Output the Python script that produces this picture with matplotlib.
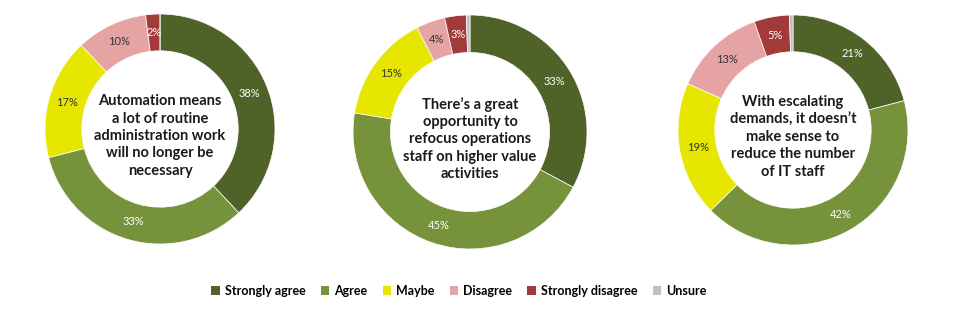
import matplotlib
matplotlib.use("Agg")
import matplotlib.pyplot as plt
from matplotlib.patches import Patch
import numpy as np

plt.rcParams['font.family'] = ['Lato', 'DejaVu Sans']

categories = ["Strongly agree", "Agree", "Maybe", "Disagree", "Strongly disagree", "Unsure"]
colors = ["#4f6228", "#76933c", "#e6e600", "#e6a3a3", "#a33a3a", "#c0c0c0"]
label_colors = ["white", "white", "#333333", "#333333", "white", "white"]

titles = [
    "Automation means\na lot of routine\nadministration work\nwill no longer be\nnecessary",
    "There\u2019s a great\nopportunity to\nrefocus operations\nstaff on higher value\nactivities",
    "With escalating\ndemands, it doesn\u2019t\nmake sense to\nreduce the number\nof IT staff",
]
values_1 = [38, 33, 17, 10, 2, 0]
values_2 = [33, 45, 15, 4, 3, 0.5]
values_3 = [21, 42, 19, 13, 5, 0.5]
all_values = [values_1, values_2, values_3]

W, H = 960, 326
fig = plt.figure(figsize=(W / 100, H / 100), dpi=100)

centers = [(160, 129, 115), (470, 132, 117), (793, 130, 115)]

for vals, title, (cx, cy, r) in zip(all_values, titles, centers):
    ax = fig.add_axes([(cx - r) / W, (H - cy - r) / H, 2 * r / W, 2 * r / H])
    ax.pie(vals, colors=colors, startangle=90, counterclock=False,
           radius=1.0, wedgeprops=dict(width=0.32, edgecolor='white', linewidth=0.5))
    total = sum(vals)
    cum = 0
    for v, lc in zip(vals, label_colors):
        if v >= 1:
            mid = 90 - (cum + v / 2) / total * 360
            rr = 0.84
            ax.text(rr * np.cos(np.radians(mid)), rr * np.sin(np.radians(mid)),
                    f"{v:g}%", ha='center', va='center', fontsize=8, color=lc)
        cum += v
    ax.text(0, -0.06, title, ha='center', va='center', fontsize=10.5, fontweight='bold',
            color='#1a1a1a', linespacing=1.3)
    ax.set_xlim(-1, 1)
    ax.set_ylim(-1, 1)
    ax.set_aspect('equal')
    ax.axis('off')

handles = [Patch(facecolor=c, edgecolor='none') for c in colors]
fig.legend(handles, categories, loc='center', bbox_to_anchor=(459 / W, 1 - 291 / H),
           ncol=6, frameon=False, handlelength=0.7, handleheight=0.7,
           handletextpad=0.4, columnspacing=1.2,
           prop={'weight': 'bold', 'size': 9})

fig.savefig("out.png", dpi=100, facecolor='white')
